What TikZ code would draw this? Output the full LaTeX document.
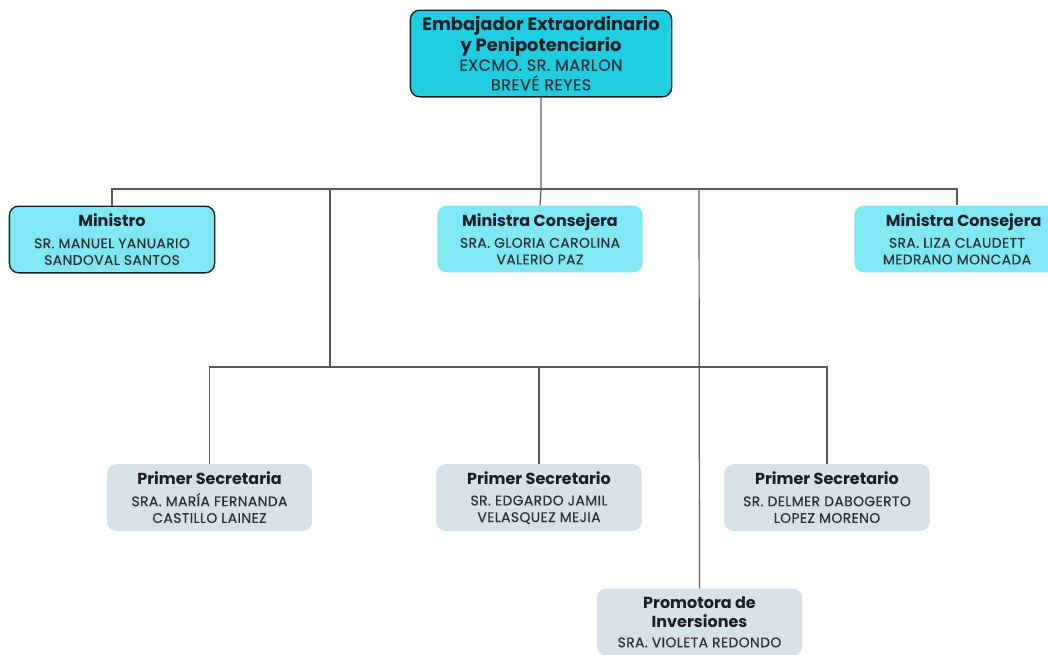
\documentclass[tikz,border=0pt]{standalone}
\usepackage{fontspec}
\setmainfont{Poppins}
\definecolor{topfill}{RGB}{30,206,224}
\definecolor{midfill}{RGB}{128,232,243}
\definecolor{lowfill}{RGB}{214,225,232}
\definecolor{txt}{RGB}{28,30,40}
\definecolor{nametxt}{RGB}{45,48,55}
\definecolor{linec}{RGB}{90,90,90}
\newcommand{\ttl}{\fontsize{12}{12.5}\selectfont\bfseries\color{txt}}
\newcommand{\nmf}{\fontsize{10.4}{12.5}\selectfont\addfontfeatures{FakeBold=0.5,LetterSpace=3}\color{nametxt}}
\newcommand{\ttlbig}{\fontsize{13.4}{14.7}\selectfont\bfseries\color{txt}}
\newcommand{\nmfbig}{\fontsize{12}{14.7}\selectfont\addfontfeatures{FakeBold=0.5,LetterSpace=3}\color{nametxt}}
\begin{document}
\begin{tikzpicture}[x=0.75pt,y=-0.75pt,
  box/.style={rectangle, rounded corners=7pt, inner sep=0pt, align=center,
    minimum width=154pt, minimum height=50pt, font=\fontsize{10}{12.5}\selectfont},
  topbox/.style={box, fill=topfill, draw=txt, line width=1pt, minimum width=196pt, minimum height=65pt, font=\fontsize{12}{14.7}\selectfont},
  midbox/.style={box, fill=midfill},
  lowbox/.style={box, fill=lowfill},
  conn/.style={draw=linec, line width=0.9pt}]
\useasboundingbox (0,0) rectangle (1048,654);

\node[topbox] (emb) at (541,53.5) {{\ttlbig Embajador Extraordinario}\\[0.5pt]{\ttlbig y Penipotenciario}\\{\nmfbig EXCMO. SR. MARLON}\\{\nmfbig BREVÉ REYES}};

\node[midbox, draw=txt, line width=1pt] (min) at (112,239.5) {{\ttl Ministro}\\[3.5pt]{\nmf SR. MANUEL YANUARIO}\\{\nmf SANDOVAL SANTOS}};
\node[midbox] (mc2) at (540,239) {{\ttl Ministra Consejera}\\[3.5pt]{\nmf SRA. GLORIA CAROLINA}\\{\nmf VALERIO PAZ}};
\node[midbox] (mc3) at (957,239) {{\ttl\hspace*{10pt}Ministra Consejera}\\[3.5pt]{\nmf SRA. LIZA CLAUDETT}\\{\nmf MEDRANO MONCADA}};

\node[lowbox] (ps1) at (209.5,497.5) {{\ttl Primer Secretaria}\\[3.5pt]{\nmf SRA. MARÍA FERNANDA}\\{\nmf CASTILLO LAINEZ}};
\node[lowbox] (ps2) at (539,497.5) {{\ttl Primer Secretario}\\[3.5pt]{\nmf SR. EDGARDO JAMIL}\\{\nmf VELASQUEZ MEJIA}};
\node[lowbox] (ps3) at (827,497.5) {{\ttl Primer Secretario}\\[3.5pt]{\nmf SR. DELMER DABOGERTO}\\{\nmf LOPEZ MORENO}};
\node[lowbox] (pr) at (699.5,622) {{\ttl Promotora de}\\[2pt]{\ttl Inversiones}\\[2pt]{\nmf SRA. VIOLETA REDONDO}};

\coordinate (h1) at (541,189);
\coordinate (b1) at (330,189);
\coordinate (b2) at (330,367);
\coordinate (p1) at (699,189);

\draw[conn] (emb.south) -- (h1) -- (mc2.north);
\draw[conn] (min.north) |- (mc3.north |- h1) -- (mc3.north);
\draw[conn] (b1) -- (b2);
\draw[conn] (ps1.north) |- (ps3.north |- b2) -- (ps3.north);
\draw[conn] (ps2.north) -- (ps2.north |- b2);
\draw[conn] (p1) -- (pr.north);
\end{tikzpicture}
\end{document}
